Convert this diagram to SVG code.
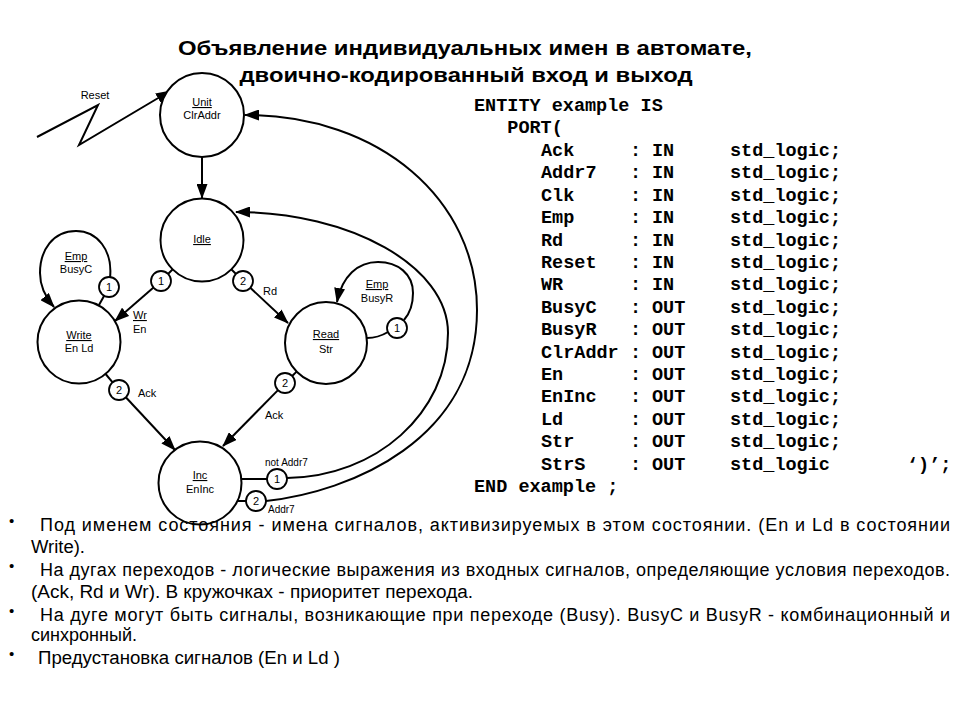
<svg xmlns="http://www.w3.org/2000/svg" width="960" height="720" viewBox="0 0 960 720">
<defs>
<marker id="ah" viewBox="0 0 15 11" refX="14" refY="5.5" markerWidth="15" markerHeight="11" markerUnits="userSpaceOnUse" orient="auto"><path d="M0,0 L15,5.5 L0,11 z" fill="#000"/></marker>
</defs>
<style>
.n{fill:#fff;stroke:#000;stroke-width:2}
.p{fill:#fff;stroke:#000;stroke-width:1.8}
.c{fill:none;stroke:#000;stroke-width:2}
.a{marker-end:url(#ah)}
.t{font-family:"Liberation Sans",Arial,sans-serif;font-size:11px;fill:#000}
.s{font-size:10px}
.m{text-anchor:middle}
.u{text-decoration:underline}
.code{font-family:"Liberation Mono","Courier New",monospace;font-size:18.5px;font-weight:bold;fill:#000}
.b{font-family:"Liberation Sans",Arial,sans-serif;font-size:18px;fill:#000}
.d{font-size:15px}
.h{font-family:"Liberation Sans",Arial,sans-serif;font-size:21px;font-weight:bold;text-anchor:middle;fill:#000}
</style>
<rect width="960" height="720" fill="#fff"/>
<g id="title">
<text class="h" x="465" y="55" textLength="574" lengthAdjust="spacingAndGlyphs">Объявление индивидуальных имен в автомате,</text>
<text class="h" x="466" y="82" textLength="453" lengthAdjust="spacingAndGlyphs">двоично-кодированный вход и выход</text>
</g>
<g id="connectors">
<path class="c a" d="M37 137 L98 105 L79 145 L170 91"/>
<text class="t m" x="95" y="99">Reset</text>
<path class="c a" d="M202 157 L202 198"/>
<path class="c" d="M173 269 L168 274"/>
<path class="c a" d="M153.5 287.6 L115 321"/>
<path class="c" d="M231 269 L236 274"/>
<path class="c a" d="M250.3 287.8 L288 323"/>
<path class="c" d="M105.6 374 L112.6 382.3"/>
<path class="c a" d="M125.8 397.3 L175 450"/>
<path class="c" d="M296.6 371.6 L292.2 376"/>
<path class="c a" d="M278 390.1 L223 446"/>
<path class="c" d="M104 296 L99 305"/>
<path class="c a" d="M110 278 C113 250 97 231 76 231 C53 231 40 250 40 273 C40 286 46 298 54 307"/>
<path class="c" d="M367 338 Q378 338 388 332"/>
<path class="c a" d="M404 320 C411 312 413 302 413 293 C413 274 398 262 378 262 C358 262 342 276 337 302"/>
<path class="c" d="M241.5 479 L267 479"/>
<path class="c a" d="M287 478 C376 477 448 413 448 333 C448 266 350 212 236 212"/>
<path class="c" d="M237 501 L246 501"/>
<path class="c a" d="M266 501 C350 492 477 440 477 310 C477 200 380 115 245 115"/>
<g id="priorities">
<circle class="p" cx="109" cy="287" r="10"/><text class="t m" x="109" y="291">1</text>
<circle class="p" cx="161" cy="281" r="10"/><text class="t m" x="161" y="285">1</text>
<circle class="p" cx="243" cy="281" r="10"/><text class="t m" x="243" y="285">2</text>
<circle class="p" cx="119" cy="390" r="10"/><text class="t m" x="119" y="394">2</text>
<circle class="p" cx="397" cy="328" r="10"/><text class="t m" x="397" y="332">1</text>
<circle class="p" cx="285" cy="383" r="10"/><text class="t m" x="285" y="387">2</text>
<circle class="p" cx="277" cy="479" r="10"/><text class="t m" x="277" y="483">1</text>
<circle class="p" cx="256" cy="501" r="10"/><text class="t m" x="256" y="505">2</text>
</g>
<text class="t m u" x="76" y="260">Emp</text>
<text class="t m" x="76" y="273">BusyC</text>
<text class="t u" x="133" y="319">Wr</text>
<text class="t" x="133" y="333">En</text>
<text class="t" x="263" y="295">Rd</text>
<text class="t m u" x="377" y="288">Emp</text>
<text class="t m" x="377" y="302">BusyR</text>
<text class="t" x="138" y="397">Ack</text>
<text class="t" x="265" y="419">Ack</text>
<text class="t s" x="265" y="466">not Addr7</text>
<text class="t s" x="268" y="513">Addr7</text>
</g>
<g id="Unit">
<circle class="n" cx="202" cy="115" r="42"/>
<text class="t m u" x="202" y="106">Unit</text>
<text class="t m" x="202" y="119">ClrAddr</text>
</g>
<g id="Idle">
<circle class="n" cx="202" cy="240" r="41.5"/>
<text class="t m u" x="202" y="243">Idle</text>
</g>
<g id="Write">
<circle class="n" cx="79" cy="342" r="41.5"/>
<text class="t m u" x="79" y="339">Write</text>
<text class="t m" x="79" y="352">En Ld</text>
</g>
<g id="Read">
<circle class="n" cx="326" cy="343" r="41"/>
<text class="t m u" x="326" y="338">Read</text>
<text class="t m" x="326" y="353">Str</text>
</g>
<g id="Inc">
<circle class="n" cx="200" cy="483" r="41.5"/>
<text class="t m u" x="200" y="479">Inc</text>
<text class="t m" x="200" y="493">EnInc</text>
</g>
<g id="code" class="code">
<text x="474" y="111">ENTITY example IS</text>
<text x="507.3" y="133">PORT(</text>
<text y="156"><tspan x="541">Ack</tspan><tspan x="630">:</tspan><tspan x="652">IN</tspan><tspan x="730">std_logic;</tspan></text>
<text y="178.4"><tspan x="541">Addr7</tspan><tspan x="630">:</tspan><tspan x="652">IN</tspan><tspan x="730">std_logic;</tspan></text>
<text y="200.8"><tspan x="541">Clk</tspan><tspan x="630">:</tspan><tspan x="652">IN</tspan><tspan x="730">std_logic;</tspan></text>
<text y="223.2"><tspan x="541">Emp</tspan><tspan x="630">:</tspan><tspan x="652">IN</tspan><tspan x="730">std_logic;</tspan></text>
<text y="245.6"><tspan x="541">Rd</tspan><tspan x="630">:</tspan><tspan x="652">IN</tspan><tspan x="730">std_logic;</tspan></text>
<text y="268"><tspan x="541">Reset</tspan><tspan x="630">:</tspan><tspan x="652">IN</tspan><tspan x="730">std_logic;</tspan></text>
<text y="290.4"><tspan x="541">WR</tspan><tspan x="630">:</tspan><tspan x="652">IN</tspan><tspan x="730">std_logic;</tspan></text>
<text y="312.8"><tspan x="541">BusyC</tspan><tspan x="630">:</tspan><tspan x="652">OUT</tspan><tspan x="730">std_logic;</tspan></text>
<text y="335.2"><tspan x="541">BusyR</tspan><tspan x="630">:</tspan><tspan x="652">OUT</tspan><tspan x="730">std_logic;</tspan></text>
<text y="357.6"><tspan x="541">ClrAddr</tspan><tspan x="630">:</tspan><tspan x="652">OUT</tspan><tspan x="730">std_logic;</tspan></text>
<text y="380"><tspan x="541">En</tspan><tspan x="630">:</tspan><tspan x="652">OUT</tspan><tspan x="730">std_logic;</tspan></text>
<text y="402.4"><tspan x="541">EnInc</tspan><tspan x="630">:</tspan><tspan x="652">OUT</tspan><tspan x="730">std_logic;</tspan></text>
<text y="424.8"><tspan x="541">Ld</tspan><tspan x="630">:</tspan><tspan x="652">OUT</tspan><tspan x="730">std_logic;</tspan></text>
<text y="447.2"><tspan x="541">Str</tspan><tspan x="630">:</tspan><tspan x="652">OUT</tspan><tspan x="730">std_logic;</tspan></text>
<text y="469.6"><tspan x="541">StrS</tspan><tspan x="630">:</tspan><tspan x="652">OUT</tspan><tspan x="730">std_logic</tspan><tspan x="907">‘)’;</tspan></text>
<text x="474" y="492">END example ;</text>
</g>
<g id="notes" class="b">
<text class="d" x="9" y="526">•</text>
<text x="40" y="531" textLength="910" lengthAdjust="spacing">Под именем состояния - имена сигналов, активизируемых в этом состоянии. (En и Ld в состоянии</text>
<text x="31" y="553" textLength="54" lengthAdjust="spacingAndGlyphs">Write).</text>
<text class="d" x="9" y="571">•</text>
<text x="40" y="576" textLength="910" lengthAdjust="spacing">На дугах переходов - логические выражения из входных сигналов, определяющие условия переходов.</text>
<text x="31" y="598" textLength="442" lengthAdjust="spacingAndGlyphs">(Ack, Rd и Wr). В кружочках  - приоритет перехода.</text>
<text class="d" x="9" y="616">•</text>
<text x="40" y="621" textLength="910" lengthAdjust="spacing">На дуге могут быть сигналы, возникающие при переходе (Busy). BusyC и BusyR  - комбинационный и</text>
<text x="31" y="641" textLength="106" lengthAdjust="spacingAndGlyphs">синхронный.</text>
<text class="d" x="9" y="659">•</text>
<text x="38" y="664" textLength="302" lengthAdjust="spacingAndGlyphs">Предустановка сигналов (En и Ld )</text>
</g>
</svg>
